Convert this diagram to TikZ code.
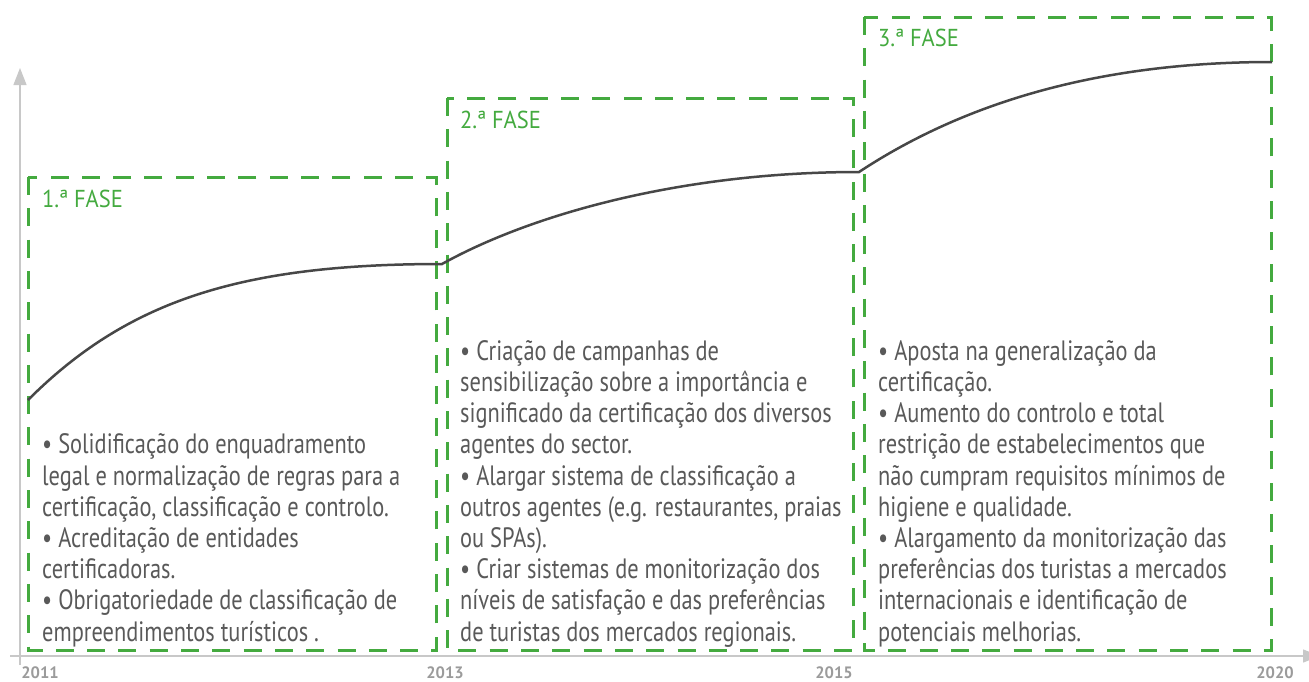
\documentclass[tikz,border=0pt]{standalone}
\usepackage{fontspec}
\setmainfont{PT Sans}[FakeStretch=0.80]
\newfontfamily\titlefont{PT Sans}[FakeStretch=0.92]
\newfontfamily\yearfont{PT Sans}
\usetikzlibrary{arrows.meta}
\definecolor{fase}{HTML}{44AA3F}
\definecolor{body}{HTML}{595959}
\definecolor{axis}{HTML}{C8C8C8}
\definecolor{year}{HTML}{9B9B9B}
\definecolor{curve}{HTML}{474747}

\begin{document}
\begin{tikzpicture}[x=1pt, y=-1pt,
  fasebox/.style={draw=fase, line width=3pt, dash pattern=on 18pt off 13.3pt},
  fasetitle/.style={anchor=base west, inner sep=0pt, font=\titlefont\fontsize{24.5}{28}\selectfont, text=fase},
  fasetext/.style={anchor=base west, inner sep=0pt, align=left, text=body, font=\fontsize{28}{31.2}\selectfont},
  yearlabel/.style={inner sep=0pt, text=year, font=\yearfont\bfseries\fontsize{16.5}{18}\selectfont},
  axisline/.style={draw=axis, line width=1.3pt}]
  \useasboundingbox (0,0) rectangle (1309,681);
  % Axes
  \draw[axisline, -{Triangle[length=17pt, width=13pt]}] (20,665) -- (20,68);
  \draw[axisline, -{Triangle[length=17pt, width=13pt]}] (10,656) -- (1320,656);
  \node[yearlabel] (y2011) at (40,673) {2011};
  \node[yearlabel] (y2013) at (445,673) {2013};
  \node[yearlabel] (y2015) at (834,673) {2015};
  \node[yearlabel] (y2020) at (1275,673) {2020};
  % Phases
  \draw[fasebox] (28,177) rectangle (436,650);
  \draw[fasebox] (447,98) rectangle (853,650);
  \draw[fasebox] (864,17) rectangle (1271,650);
  \node[fasetitle] (t1) at (42,207) {1.ª FASE};
  \node[fasetitle] (t2) at (460,128) {2.ª FASE};
  \node[fasetitle] (t3) at (878,46) {3.ª FASE};
  % Growth curve
  \coordinate (c0) at (28,400);
  \coordinate (c1) at (442,264);
  \coordinate (c2) at (859,172);
  \coordinate (c3) at (1272,62);
  \draw[curve, line width=2.5pt]
    (c0) .. controls (128,300) and (242,264) .. (c1)
         .. controls (530,215) and (680,172) .. (c2)
         .. controls (950,112) and (1080,62) .. (c3);
  % Texts
  \node[fasetext] (f1) at (42,641) {%
    • Solidificação do enquadramento\\
    legal e normalização de regras para a\\
    certificação, classificação e controlo.\\
    • Acreditação de entidades\\
    certificadoras.\\
    • Obrigatoriedade de classificação de\\
    empreendimentos turísticos .};
  \node[fasetext] (f2) at (460,641) {%
    • Criação de campanhas de\\
    sensibilização sobre a importância e\\
    significado da certificação dos diversos\\
    agentes do sector.\\
    • Alargar sistema de classificação a\\
    outros agentes (e.g. restaurantes, praias\\
    ou SPAs).\\
    • Criar sistemas de monitorização dos\\
    níveis de satisfação e das preferências\\
    de turistas dos mercados regionais.};
  \node[fasetext] (f3) at (878,641) {%
    • Aposta na generalização da\\
    certificação.\\
    • Aumento do controlo e total\\
    restrição de estabelecimentos que\\
    não cumpram requisitos mínimos de\\
    higiene e qualidade.\\
    • Alargamento da monitorização das\\
    preferências dos turistas a mercados\\
    internacionais e identificação de\\
    potenciais melhorias.};
\end{tikzpicture}
\end{document}
